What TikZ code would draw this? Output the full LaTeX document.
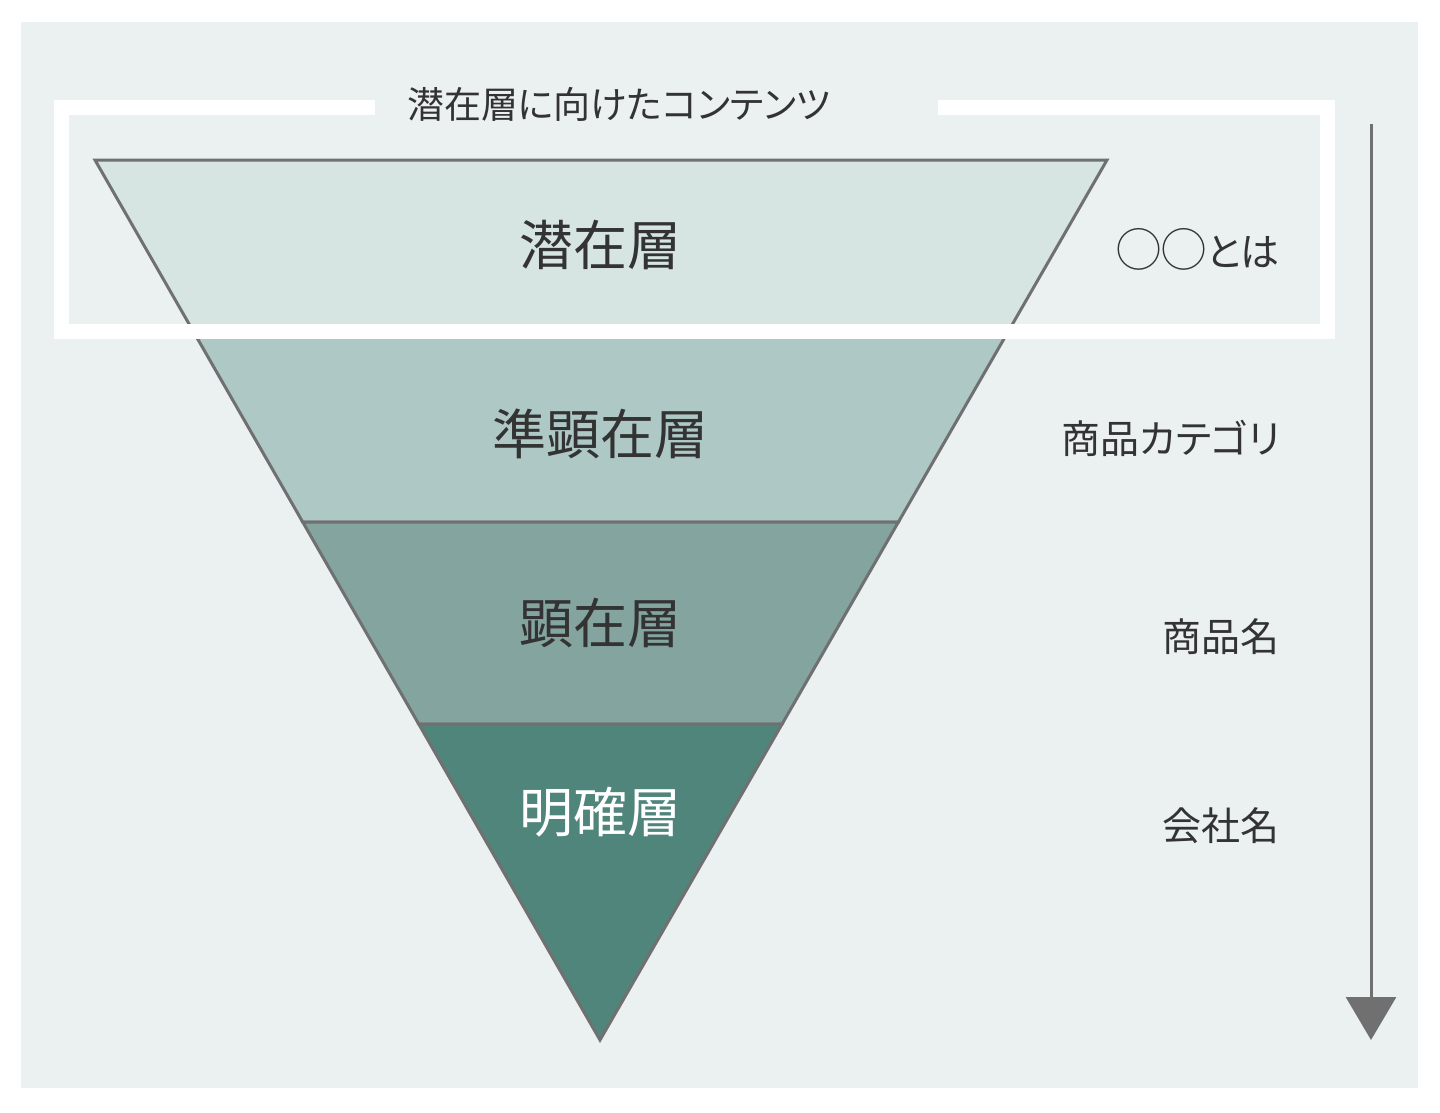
\documentclass[tikz,border=0pt]{standalone}
\usepackage{fontspec}
\usetikzlibrary{arrows.meta,positioning}
\newfontfamily\jpfont{Noto Sans CJK JP}
\newfontfamily\jpprop{Noto Sans CJK JP}[RawFeature=+palt]
\definecolor{panel}{HTML}{EBF1F1}
\definecolor{layerA}{HTML}{D6E5E2}
\definecolor{layerB}{HTML}{ADC8C5}
\definecolor{layerC}{HTML}{84A59F}
\definecolor{layerD}{HTML}{50857C}
\definecolor{edgegray}{HTML}{707070}
\definecolor{textgray}{HTML}{333333}
\tikzset{
    %Define standard arrow tip
    >={Triangle[width=50pt,length=43pt]},
    %Define style for funnel layers
    layer/.style={
           draw=edgegray,
           line width=3pt,
           line join=miter},
    layer label/.style={
           font=\jpfont\fontsize{54}{54}\selectfont,
           text=textgray,
           inner sep=0pt},
    side label/.style={
           font=\jpprop\fontsize{39}{39}\selectfont,
           text=textgray,
           anchor=east,
           inner sep=0pt},
    % Define arrow style
    flow/.style={
           ->,
           draw=edgegray,
           line width=3pt}
}
\begin{document}
\begin{tikzpicture}[x=1pt,y=-1pt]
\useasboundingbox (0,0) rectangle (1440,1112);
\fill[panel] (21,22) rectangle (1418,1088);

 %funnel corners
\coordinate (a1) at (95,160);    \coordinate (b1) at (1107,160);
\coordinate (a2) at (193.1,331); \coordinate (b2) at (1008.5,331);
\coordinate (a3) at (302.7,522); \coordinate (b3) at (898.4,522);
\coordinate (a4) at (418.7,724); \coordinate (b4) at (782.1,724);
\coordinate (tip) at (600,1040);

\draw[layer, fill=layerA] (a1) -- (b1) -- (b2) -- (a2) -- cycle;
\draw[layer, fill=layerB] (a2) -- (b2) -- (b3) -- (a3) -- cycle;
\draw[layer, fill=layerC] (a3) -- (b3) -- (b4) -- (a4) -- cycle;
\draw[layer, fill=layerD] (a4) -- (b4) -- (tip) -- cycle;

 %white frame round the top layer
\draw[white, line width=15pt, line join=miter]
    (375,107) -- (61,107) -- (61,331) -- (1327,331) -- (1327,107) -- (938,107);
\node[font=\jpprop\fontsize{37}{37}\selectfont, text=textgray, inner sep=0pt]
    (frame) at (619,104) {潜在層に向けたコンテンツ};

 %nodes
\node[layer label] (1) at (600,245) {潜在層};
\node[layer label] (2) at (600,434) {準顕在層};
\node[layer label] (3) at (600,623) {顕在層};
\node[layer label, text=white] (4) at (600,812) {明確層};

\node[side label] (s1) at (1280,249) {{\jpfont\fontsize{45}{45}\selectfont ◯◯}とは};
\node[side label] (s2) at (1280,438) {商品カテゴリ};
\node[side label] (s3) at (1280,637) {商品名};
\node[side label] (s4) at (1280,826) {会社名};

\coordinate (top) at (1371,124);
\coordinate (end) at (1371,1040);
\draw[flow] (top) -- (end);
\end{tikzpicture}
\end{document}
